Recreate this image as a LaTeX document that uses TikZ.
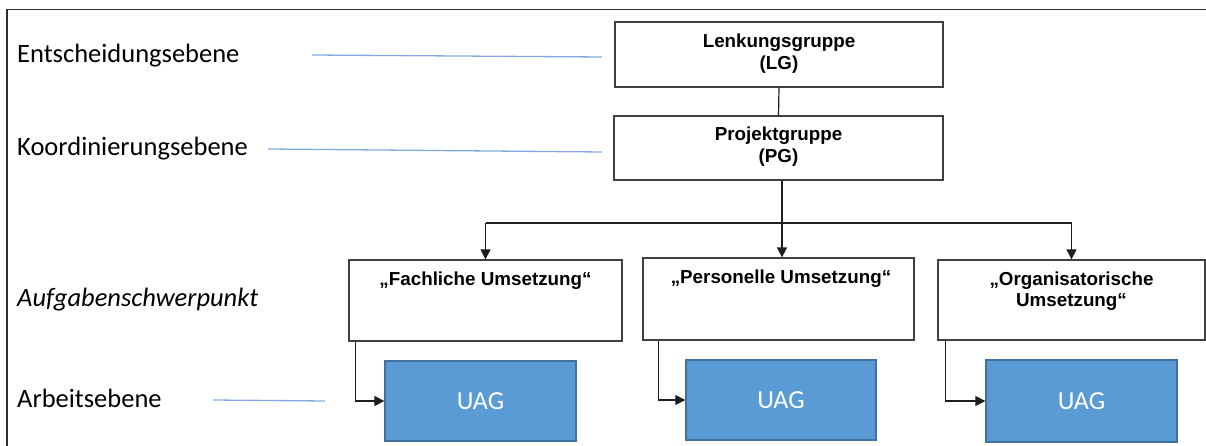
\documentclass[tikz,border=0pt]{standalone}
\usepackage{fontspec}
\setmainfont{Liberation Sans}
\newfontfamily\carlito{Carlito}
\usetikzlibrary{arrows.meta,calc}
\definecolor{boxline}{RGB}{64,64,64}
\definecolor{conn}{RGB}{30,30,30}
\definecolor{uagfill}{RGB}{91,155,213}
\definecolor{uagline}{RGB}{65,113,156}
\definecolor{guide}{RGB}{130,170,220}
\definecolor{frameline}{RGB}{45,45,45}
\begin{document}
\begin{tikzpicture}[x=1pt,y=-1pt,
  box/.style={draw=boxline, line width=1.3pt, fill=white, inner sep=0pt},
  uag/.style={draw=uagline, line width=1.3pt, fill=uagfill, inner sep=0pt,
    text=white, font=\carlito\fontsize{26}{30}\selectfont},
  btext/.style={inner sep=0pt, anchor=base, text=black, font=\bfseries\fontsize{18.8}{22}\selectfont},
  ltext/.style={inner sep=0pt, anchor=base west, font=\carlito\fontsize{26.5}{30}\selectfont},
  conline/.style={draw=conn, line width=1.2pt},
  arr/.style={conline, -{Triangle[length=10pt,width=10pt]}},
  guideline/.style={draw=guide, line width=1.3pt},
  frame/.style={draw=frameline, line width=1.6pt}
]
\useasboundingbox (0,0) rectangle (1206,446);

% frame
\coordinate (ftl) at (7,9.5);
\coordinate (ftr) at (1206,9.5);
\coordinate (fbl) at (7,446);
\draw[frame] (ftr) -- (ftl) -- (fbl);

% level labels
\node[ltext] (l1) at (17,63) {Entscheidungsebene};
\node[ltext] (l2) at (17,156) {Koordinierungsebene};
\node[ltext, font=\carlito\itshape\fontsize{26.5}{30}\selectfont] (l3) at (17,306) {Aufgabenschwerpunkt};
\node[ltext] (l4) at (17,407) {Arbeitsebene};

% guide lines
\coordinate (g1a) at (312,55);
\coordinate (g1b) at (602,57);
\coordinate (g2a) at (268,149);
\coordinate (g2b) at (602,152);
\coordinate (g4a) at (213,400);
\coordinate (g4b) at (325,401);
\draw[guideline] (g1a) -- (g1b);
\draw[guideline] (g2a) -- (g2b);
\draw[guideline] (g4a) -- (g4b);

% boxes
\node[box, minimum width=328pt, minimum height=65pt] (LG) at (779,54.5) {};
\node[btext] (lgt1) at (779,48) {Lenkungsgruppe};
\node[btext] (lgt2) at (779,70) {(LG)};

\node[box, minimum width=329pt, minimum height=64pt] (PG) at (778.5,148) {};
\node[btext] (pgt1) at (778.5,141) {Projektgruppe};
\node[btext] (pgt2) at (778.5,163) {(PG)};

\node[box, minimum width=273pt, minimum height=81pt] (Fach) at (485.5,300.5) {};
\node[btext] (facht) at (485.5,285) {„Fachliche Umsetzung“};

\node[box, minimum width=271pt, minimum height=82pt] (Pers) at (778.5,299) {};
\node[btext] (perst) at (781,283) {„Personelle Umsetzung“};

\node[box, minimum width=267pt, minimum height=80pt] (Org) at (1071.5,300) {};
\node[btext] (orgt1) at (1071.5,285) {„Organisatorische};
\node[btext] (orgt2) at (1071.5,306) {Umsetzung“};

\node[uag, minimum width=191pt, minimum height=80pt] (U1) at (480.5,401) {UAG};
\node[uag, minimum width=190pt, minimum height=80pt] (U2) at (781,400) {UAG};
\node[uag, minimum width=191pt, minimum height=82pt] (U3) at (1081.5,401) {UAG};

% connectors
\draw[conline] (LG.south) -- (PG.north);
\coordinate (bus) at (782,223);
\draw[arr, line width=1.6pt] (PG.south -| bus) -- (Pers.north -| bus);
\draw[conline] (Fach.north |- bus) -- (Org.north |- bus);
\draw[arr] (Fach.north |- bus) -- (Fach.north);
\draw[arr] (Org.north |- bus) -- (Org.north);

\draw[arr] ([xshift=7pt]Fach.south west) |- (U1.west);
\draw[arr] ([xshift=16pt]Pers.south west) |- (U2.west);
\draw[arr] ([xshift=8pt]Org.south west) |- (U3.west);
\end{tikzpicture}
\end{document}
